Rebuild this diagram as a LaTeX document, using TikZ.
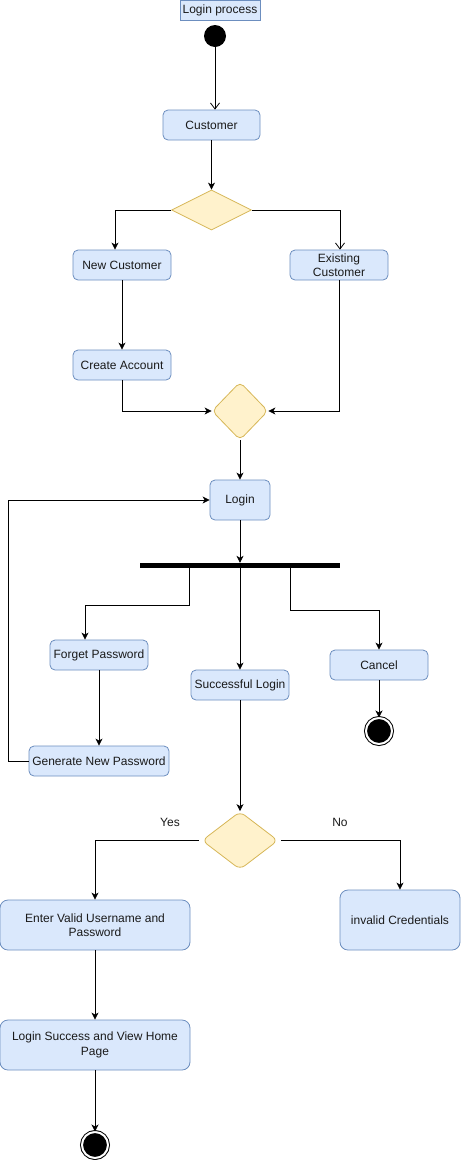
\documentclass[tikz,border=0pt]{standalone}
\usepackage{fontspec}
\setmainfont{Liberation Sans}
\usetikzlibrary{shapes.geometric,arrows.meta,calc}
\definecolor{bfill}{HTML}{DAE8FC}
\definecolor{bdraw}{HTML}{6C8EBF}
\definecolor{dfill}{HTML}{FFF2CC}
\definecolor{ddraw}{HTML}{D6B656}
\definecolor{txt}{HTML}{1A1A1A}
\begin{document}
\begin{tikzpicture}[x=1pt,y=-1pt,
  font=\fontsize{12}{14.5}\selectfont,
  act/.style={draw=bdraw, fill=bfill, rounded corners=5pt, line width=0.8pt, inner sep=2pt, align=center, text=txt},
  bigact/.style={act, rounded corners=8pt},
  dec/.style={diamond, draw=ddraw, fill=dfill, inner sep=0pt, line width=0.8pt},
  conn/.style={draw=black, line width=0.8pt, -{Stealth[length=7pt,width=7pt,inset=2pt]}},
  oconn/.style={draw=black, line width=0.8pt, -{Straight Barb[length=6pt,width=9pt]}},
  lbl/.style={text=txt, inner sep=0pt},
  endnode/.style={circle, draw=black, fill=black, line width=1pt, double=white, double distance=2pt, minimum size=26pt, inner sep=0pt}
]
\useasboundingbox (0,0) rectangle (461,1160);

% title
\node[draw=bdraw, fill=bfill, line width=0.8pt, minimum width=80pt, minimum height=20pt, inner sep=0pt, text=txt] (title) at (220,10) {Login process};

% start
\node[circle, fill=black, minimum size=22pt, inner sep=0pt] (start) at (215,36) {};

% activities
\node[act, minimum width=97pt, minimum height=30pt] (cust) at (211.5,125) {Customer};
\node[dec, minimum width=80pt, minimum height=40pt] (d1) at (211.5,210) {};
\node[act, minimum width=98pt, minimum height=30pt] (newc) at (122,265) {New Customer};
\node[act, minimum width=98pt, minimum height=30pt] (exc) at (339,265) {Existing\\Customer};
\node[act, minimum width=98pt, minimum height=30pt] (ca) at (122,365) {Create Account};
\node[dec, rounded corners=5pt, minimum width=56pt, minimum height=58pt] (d2) at (240,411) {};
\node[act, minimum width=60pt, minimum height=40pt] (login) at (240,500) {Login};
\node[fill=black, minimum width=200pt, minimum height=5pt, inner sep=0pt] (bar) at (240,565.5) {};
\node[act, minimum width=98pt, minimum height=30pt] (forget) at (99,655) {Forget Password};
\node[act, minimum width=98pt, minimum height=30pt] (succ) at (240,685) {Successful Login};
\node[act, minimum width=98pt, minimum height=30pt] (cancel) at (379,665) {Cancel};
\node[endnode] (end1) at (379,731) {};
\node[act, minimum width=140pt, minimum height=30pt] (gen) at (99,761) {Generate New Password};
\node[dec, rounded corners=6pt, minimum width=76pt, minimum height=58pt] (d3) at (240,840.5) {};
\node[lbl] (yes) at (170,822) {Yes};
\node[lbl] (no) at (340,822) {No};
\node[bigact, minimum width=190pt, minimum height=50pt] (enter) at (95,925) {Enter Valid Username and\\Password};
\node[bigact, minimum width=120pt, minimum height=60pt] (inv) at (400,920) {invalid Credentials};
\node[bigact, minimum width=190pt, minimum height=50pt] (lsucc) at (95,1045) {Login Success and View Home\\Page};
\node[endnode] (end2) at (95,1145) {};

% connectors
\draw[oconn] (start.south) -- (start.south |- cust.north);
\draw[conn] (cust) -- (d1);
\draw[conn] (d1.west) -| ([xshift=-7pt]newc.north);
\draw[oconn] (d1.east) -| ([xshift=1pt]exc.north);
\draw[conn] (newc) -- (ca);
\draw[conn] (ca.south) |- (d2.west);
\draw[conn] (exc.south) |- (d2.east);
\draw[conn] (d2) -- (login);
\draw[conn] (login) -- (bar);
\draw[conn] ([xshift=50pt]bar.south west) -- ++(0,37) -| ([xshift=-14pt]forget.north);
\draw[conn] (bar) -- (succ);
\draw[conn] ([xshift=-50pt]bar.south east) -- ++(0,42) -| (cancel.north);
\draw[conn] (cancel) -- (end1);
\draw[conn] (forget) -- (gen);
\draw[conn] (gen.west) -- ++(-20,0) |- (login.west);
\draw[conn] (succ) -- (d3);
\draw[conn] ([xshift=-3pt]d3.west) -| (enter.north);
\draw[conn] ([xshift=3pt]d3.east) -| (inv.north);
\draw[conn] (enter) -- (lsucc);
\draw[conn] (lsucc) -- (end2);
\end{tikzpicture}
\end{document}
